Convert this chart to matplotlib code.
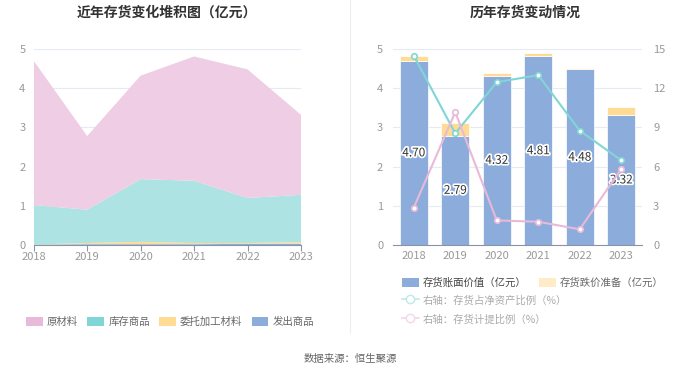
import matplotlib.pyplot as plt
import matplotlib.patheffects as pe
from matplotlib.patches import Patch
from matplotlib.lines import Line2D
import numpy as np

plt.rcParams['font.family'] = ['Noto Sans CJK SC', 'DejaVu Sans']

years = ['2018', '2019', '2020', '2021', '2022', '2023']

# left: stacked areas (亿元)
fachu = [0.01, 0.02, 0.02, 0.02, 0.03, 0.03]
weituo = [0.00, 0.03, 0.06, 0.03, 0.02, 0.04]
kucun = [1.01, 0.85, 1.60, 1.59, 1.15, 1.21]
yuancl = [3.68, 1.88, 2.64, 3.17, 3.28, 2.04]

# right: bars and lines
book_value = [4.70, 2.79, 4.32, 4.81, 4.48, 3.32]
provision = [0.13, 0.31, 0.07, 0.09, 0.04, 0.19]
ratio_net = [14.5, 8.54, 12.46, 13.0, 8.75, 6.48]
ratio_prov = [2.85, 10.17, 1.88, 1.78, 1.2, 5.83]

c_pink = '#EFCDE4'
c_pink_l = '#E8B9D8'
c_cyan = '#AEE3E3'
c_cyan_l = '#80D6D6'
c_yel = '#FFDB94'
c_blue = '#8CACDB'
c_grid = '#E6EAF4'
c_tick = '#999999'

W, H = 700, 377
fig = plt.figure(figsize=(7, 3.77), dpi=100)

def px_axes(x0, y0, x1, y1):
    return fig.add_axes([x0 / W, 1 - y1 / H, (x1 - x0) / W, (y1 - y0) / H])

# ---------- left chart ----------
ax1 = px_axes(33.7, 49, 301, 245)
x = np.arange(len(years))
ax1.stackplot(x, fachu, weituo, kucun, yuancl,
              colors=['#8CACDB', c_yel, c_cyan, c_pink], alpha=1.0, lw=0)
ax1.set_xlim(0, 5)
ax1.set_ylim(0, 5)
ax1.set_yticks(range(6))
ax1.set_xticks(x)
ax1.set_xticklabels(years)
ax1.grid(axis='y', color=c_grid, lw=0.8)
ax1.set_axisbelow(True)
for s in ['top', 'right', 'left']:
    ax1.spines[s].set_visible(False)
ax1.spines['bottom'].set_color('#8A93A8')
ax1.tick_params(axis='y', length=0, colors=c_tick, labelsize=8, pad=6)
ax1.tick_params(axis='x', length=4, color='#8A93A8', colors=c_tick, labelsize=8, pad=1)
fig.text(167 / W, 1 - 13 / H, '近年存货变化堆积图（亿元）', ha='center', va='center',
         fontsize=10, fontweight='bold', color='#333333')

# ---------- right chart ----------
ax2 = px_axes(393, 49, 642, 245)
ax2.bar(x, book_value, width=0.68, color=c_blue, edgecolor='white', lw=0.5, zorder=2)
ax2.bar(x, provision, width=0.68, bottom=book_value, color=c_yel, edgecolor='white', lw=0.5, zorder=2)
for xi, v in zip(x, book_value):
    ax2.text(xi, v / 2, f'{v:.2f}', ha='center', va='center', fontsize=8.5, color='#333333',
             path_effects=[pe.withStroke(linewidth=2.5, foreground='white')], zorder=5)
ax2.set_xlim(-0.5, 5.5)
ax2.set_ylim(0, 5)
ax2.set_yticks(range(6))
ax2.set_xticks(x)
ax2.set_xticklabels(years)
ax2.grid(axis='y', color=c_grid, lw=0.8)
ax2.set_axisbelow(True)
for s in ['top', 'right', 'left']:
    ax2.spines[s].set_visible(False)
ax2.spines['bottom'].set_color('#8A93A8')
ax2.tick_params(axis='y', length=0, colors=c_tick, labelsize=8, pad=7)
ax2.tick_params(axis='x', length=0, colors=c_tick, labelsize=8, pad=4)

ax3 = ax2.twinx()
ax3.plot(x, ratio_net, color=c_cyan_l, lw=1.5, marker='o', ms=4, mfc='white', mec=c_cyan_l, mew=1.2, zorder=4)
ax3.plot(x, ratio_prov, color=c_pink_l, lw=1.5, marker='o', ms=4, mfc='white', mec=c_pink_l, mew=1.2, zorder=4)
ax3.set_ylim(0, 15)
ax3.set_yticks([0, 3, 6, 9, 12, 15])
for s in ['top', 'right', 'left', 'bottom']:
    ax3.spines[s].set_visible(False)
ax3.tick_params(axis='y', length=0, colors=c_tick, labelsize=8, pad=8)
fig.text(525 / W, 1 - 13 / H, '历年存货变动情况', ha='center', va='center',
         fontsize=10, fontweight='bold', color='#333333')

# ---------- legends ----------
leg_kw = dict(frameon=False, fontsize=7.5, labelcolor='#666666', handlelength=1.6,
              handleheight=1.0, handletextpad=0.4, borderaxespad=0, borderpad=0)
h_left = [Patch(facecolor=c, edgecolor='none') for c in [c_pink_l, c_cyan_l, c_yel, c_blue]]
fig.legend(h_left, ['原材料', '库存商品', '委托加工材料', '发出商品'], ncol=4,
           loc='center', bbox_to_anchor=(170 / W, 1 - 322 / H), columnspacing=0.9, **leg_kw)

h_bar = [Patch(facecolor=c_blue, edgecolor='none'), Patch(facecolor='#FFEBC8', edgecolor='none')]
lg = fig.legend(h_bar, ['存货账面价值（亿元）', '存货跌价准备（亿元）'], ncol=2,
                loc='center left', bbox_to_anchor=(402 / W, 1 - 283 / H), columnspacing=1.2, **leg_kw)
lg.get_texts()[0].set_color('#444444')
h_line = [Line2D([], [], color='#BFE9E9', marker='o', ms=6, mfc='white', mec='#BFE9E9', lw=1.2),
          Line2D([], [], color='#F3D6EA', marker='o', ms=6, mfc='white', mec='#F3D6EA', lw=1.2)]
fig.legend(h_line, ['右轴：存货占净资产比例（%）', '右轴：存货计提比例（%）'], ncol=1,
           loc='upper left', bbox_to_anchor=(402 / W, 1 - 295 / H), labelspacing=0.85,
           **dict(leg_kw, labelcolor='#AAAAAA'))

# divider and source
fig.add_artist(Line2D([350 / W, 350 / W], [1 - 0 / H, 1 - 333 / H], color='#EEEEEE', lw=0.8))
fig.text(350 / W, 1 - 359 / H, '数据来源：恒生聚源', ha='center', va='center', fontsize=7.5, color='#666666')

fig.savefig('out.png', dpi=100)
